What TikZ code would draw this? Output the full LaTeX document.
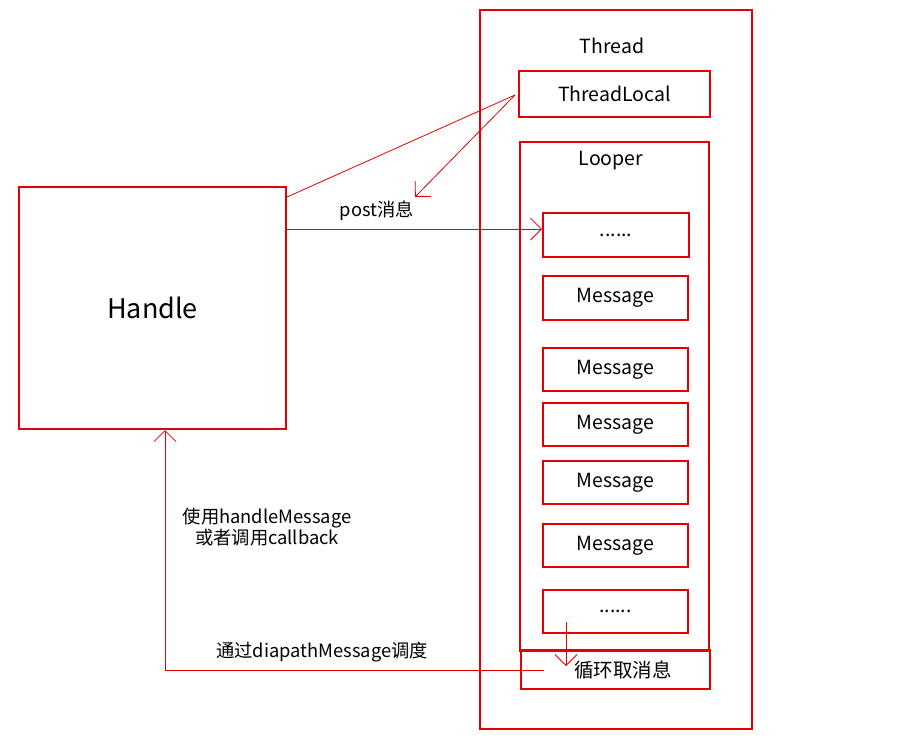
\documentclass[tikz,border=0pt]{standalone}
\usepackage{fontspec}
\setmainfont{Noto Sans CJK SC}
\usetikzlibrary{arrows.meta}
\definecolor{msgred}{RGB}{228,0,0}
\tikzset{
	box/.style={draw=msgred, line width=2pt, inner sep=0pt, font=\fontsize{19.5}{22}\selectfont},
	wire/.style={draw=msgred, line width=0.8pt},
	tip/.style={-{Straight Barb[length=11pt,width=22pt,line width=0.8pt]}},
	txt/.style={font=\fontsize{18.3}{21.5}\selectfont, align=center}
}

\begin{document}
\begin{tikzpicture}[x=1pt, y=-1pt]
		%%%%% START %%%%%
		\useasboundingbox (0, 0) rectangle (900, 740);
		
		\node[box, minimum width=267pt, minimum height=242pt, font=\fontsize{27}{30}\selectfont] (handle) at (152.5, 308) {Handle};
		
		\node[box, minimum width=272pt, minimum height=719pt] (thread) at (616, 369.5) {};
		\node[box, draw=none] (threadname) at (612, 46) {Thread};
		\node[box, minimum width=191pt, minimum height=46pt] (threadlocal) at (614.5, 94) {ThreadLocal};
		
		\node[box, minimum width=189pt, minimum height=509pt] (looper) at (614.5, 396.5) {};
		\node[box, draw=none] (loopername) at (611, 161) {Looper};
		
		\node[box, minimum width=146pt, minimum height=44pt] (firstdots) at (616, 235) {......};
		\node[box, minimum width=145pt, minimum height=44pt] (msga) at (615.5, 298) {Message};
		\node[box, minimum width=145pt, minimum height=43pt] (msgb) at (615.5, 369.5) {Message};
		\node[box, minimum width=145pt, minimum height=43pt] (msgc) at (615.5, 424.5) {Message};
		\node[box, minimum width=145pt, minimum height=43pt] (msgd) at (615.5, 482.5) {Message};
		\node[box, minimum width=145pt, minimum height=43pt] (msge) at (615.5, 545.5) {Message};
		\node[box, minimum width=145pt, minimum height=43pt] (lastdots) at (615.5, 611.5) {......};
		
		\node[box, minimum width=189pt, minimum height=39pt] (fetch) at (615.5, 669.5) {};
		\node[box, draw=none] (fetchname) at (623, 670) {循环取消息};
		
		% ThreadLocal lookup
		\coordinate (tlpoint) at (515, 95);
		\coordinate (tlback) at (415, 197);
		\draw[wire] (handle.north east |- 0, 197) -- (tlpoint);
		\draw[wire, tip] (tlpoint) -- (tlback);
		
		% post
		\draw[wire, tip] (handle.east |- 0, 229) -- (firstdots.west |- 0, 229);
		\node[txt] (postlabel) at (377, 211) {post消息};
		
		% loop and dispatch
		\coordinate (loopstart) at (566, 622);
		\coordinate (loopend) at (566, 666);
		\coordinate (fetchin) at (544, 670);
		\draw[wire, tip] (loopstart) -- (loopend);
		\draw[wire, tip] (fetchin) -| (handle.south -| 165, 0);
		\node[txt] (handlelabel) at (267, 527) {使用handleMessage\\或者调用callback};
		\node[txt] (dispatchlabel) at (322, 652) {通过diapathMessage调度};
		
		%%%%% END %%%%%
	\end{tikzpicture}
\end{document}
